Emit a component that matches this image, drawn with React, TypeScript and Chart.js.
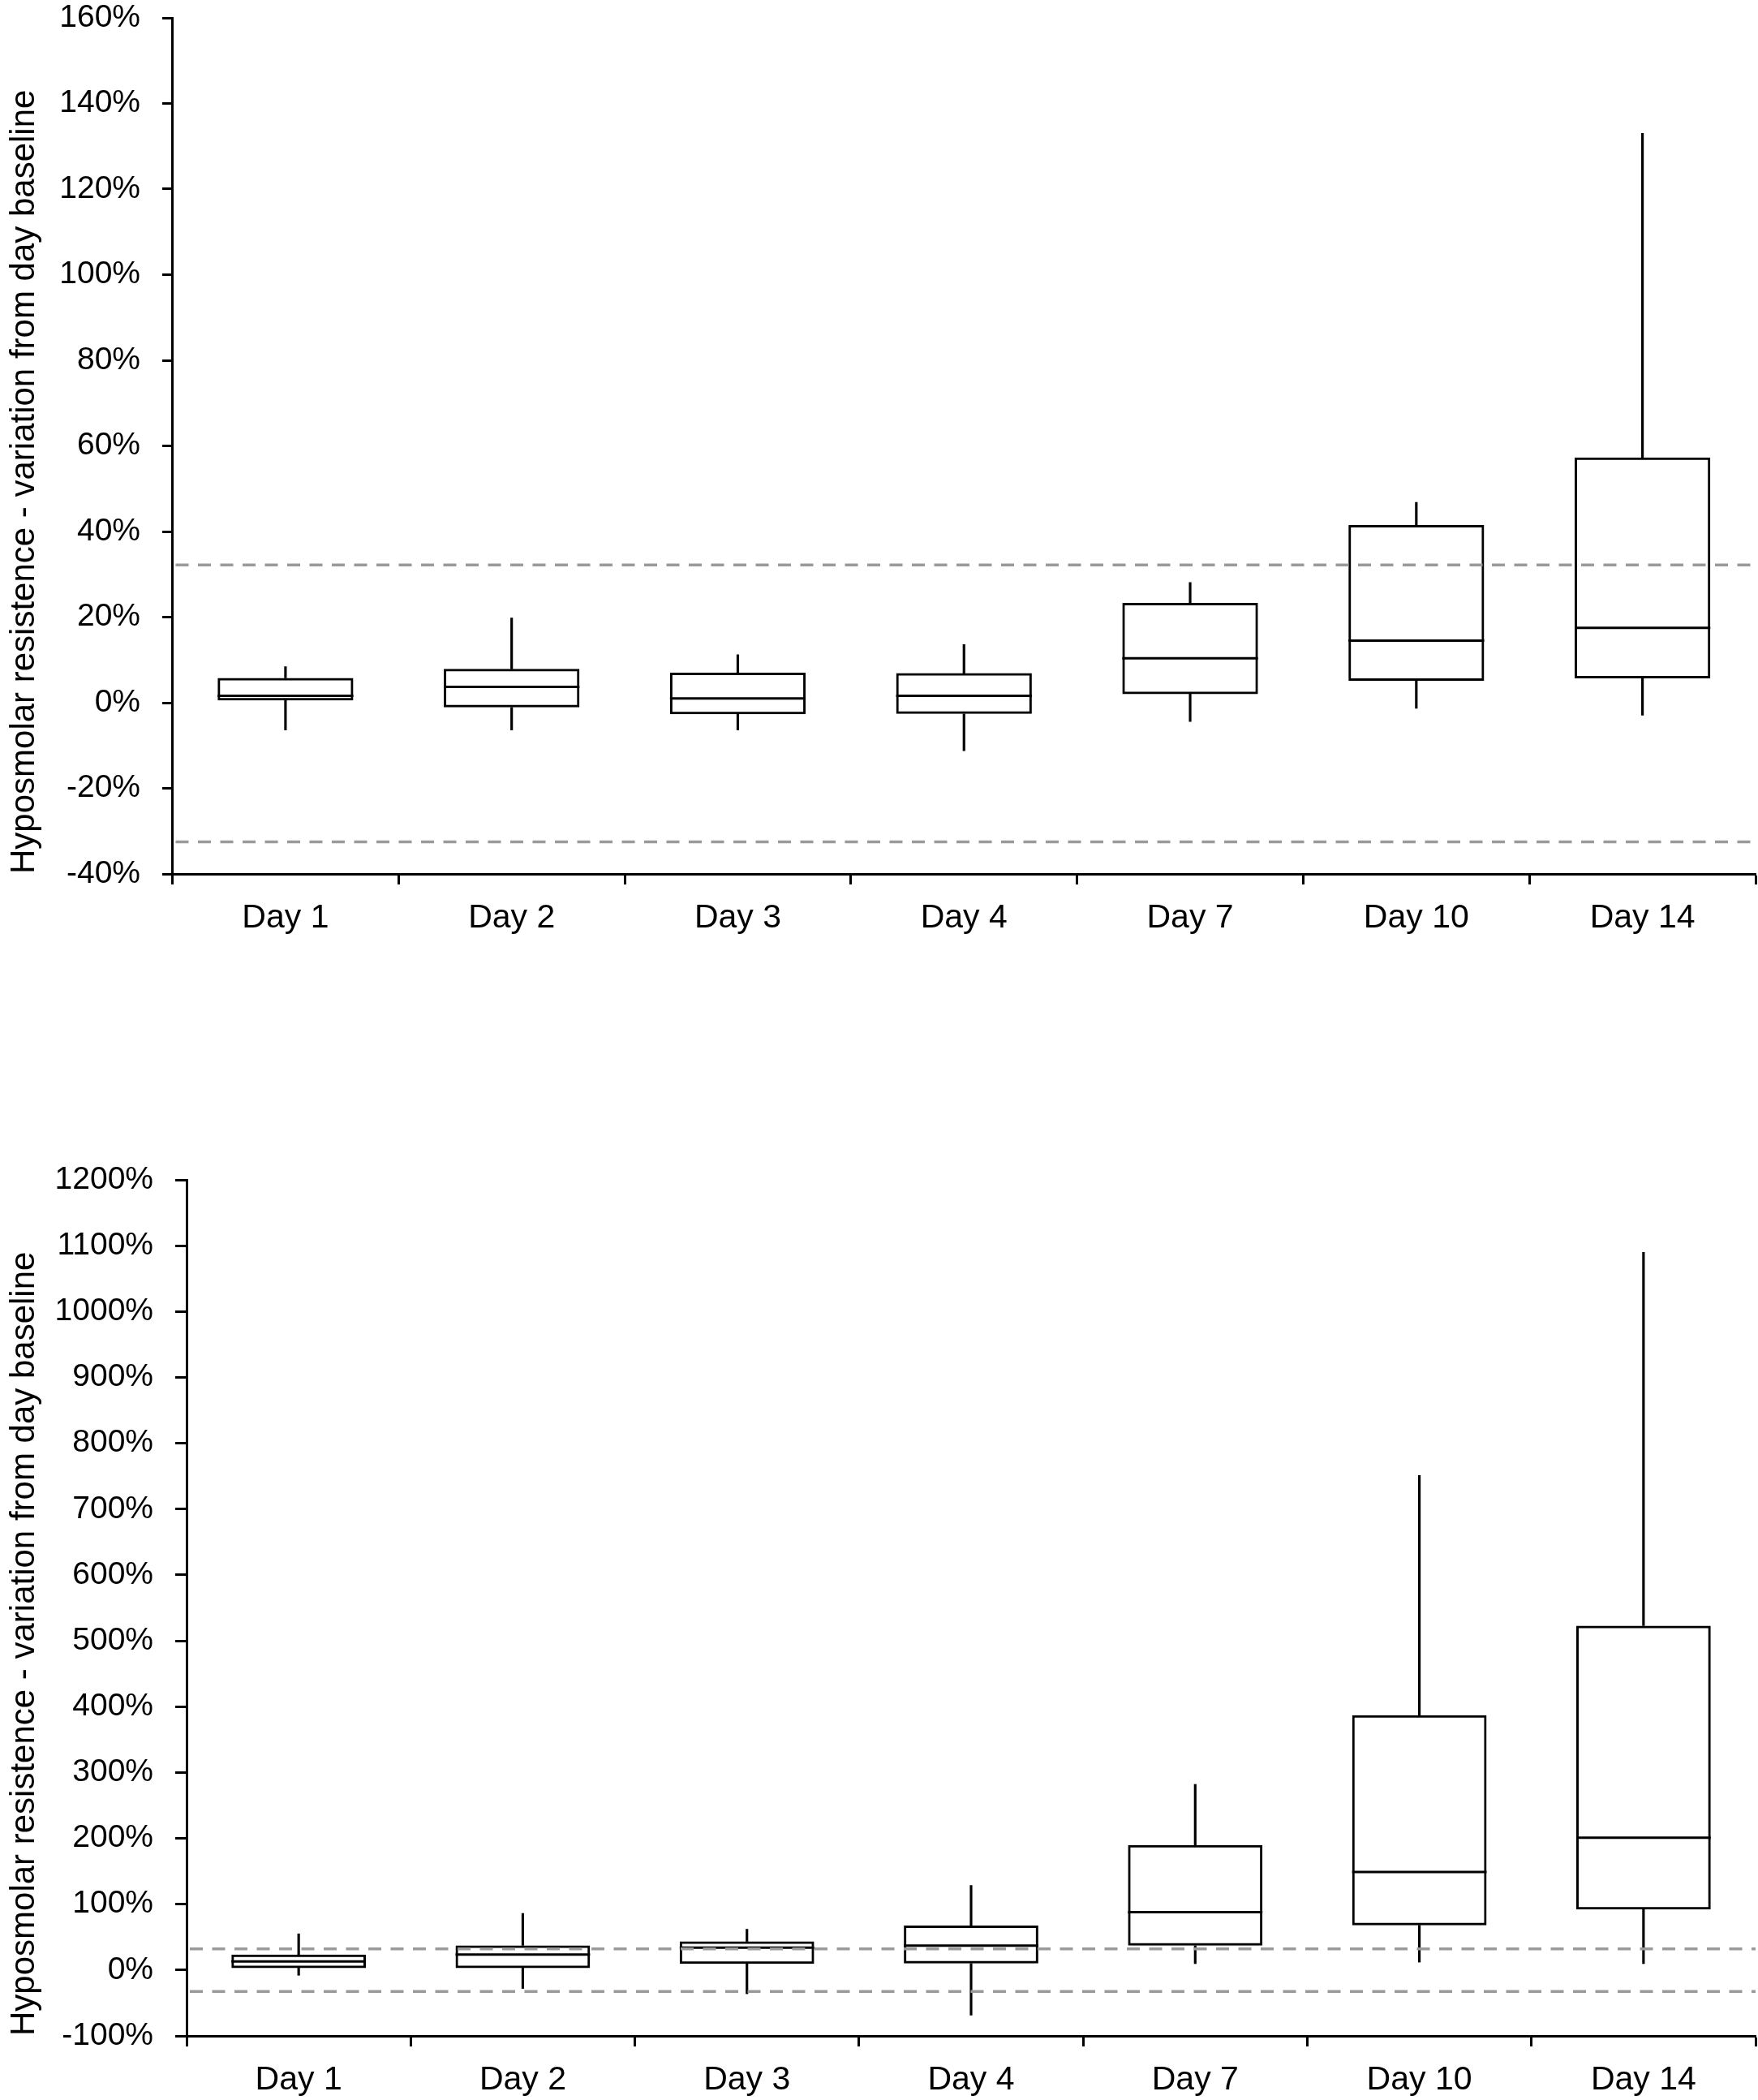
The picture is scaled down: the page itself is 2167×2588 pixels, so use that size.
import React, { useEffect, useRef } from 'react';
import { Chart, registerables } from 'chart.js';

Chart.register(...registerables);

// ---------- data ----------
const CATEGORIES = ['Day 1', 'Day 2', 'Day 3', 'Day 4', 'Day 7', 'Day 10', 'Day 14'];

// upper panel (%)
const TOP_MIN = [-6.4, -6.4, -6.4, -11.2, -4.4, -1.3, -2.9];
const TOP_Q1 = [0.5, -1.1, -2.7, -2.6, 2.0, 5.1, 5.7];
const TOP_MEDIAN = [1.6, 3.7, 1.0, 1.6, 10.4, 14.5, 17.5];
const TOP_Q3 = [5.8, 7.9, 7.0, 6.9, 23.3, 41.5, 57.3];
const TOP_MAX = [8.4, 19.8, 11.2, 13.6, 28.1, 46.8, 133];
const TOP_Y_RANGE = [-40, 160, 20]; // min, max, step

// lower panel (%)
const BOTTOM_MIN = [-8, -28, -36, -68.5, 9.7, 12, 9.7];
const BOTTOM_Q1 = [3, 3, 9.5, 10, 37, 68, 92];
const BOTTOM_MEDIAN = [13, 23.6, 34, 37, 88, 149, 201];
const BOTTOM_Q3 = [23.6, 37.5, 43.5, 67.5, 190, 387, 523];
const BOTTOM_MAX = [55, 86, 62, 128.5, 282, 751, 1090];
const BOTTOM_Y_RANGE = [-100, 1200, 100];

// reference limits (dashed lines), %
const LIMITS = [32.2, -32.5];

const Y_TITLE = 'Hyposmolar resistence - variation from day baseline';

const FONT_FAMILY = "'Liberation Sans', Arial, Helvetica, sans-serif";

type Geometry = {
  top: number;
  height: number;
  padTop: number;
  yWidth: number;
  xHeight: number;
  yTick: number;
  xPad: number;
};

function extrasPlugin(medians: number[], limits: number[]) {
  return {
    id: 'boxExtras',
    afterDatasetsDraw(chart: any) {
      const { ctx, chartArea, scales } = chart;
      const y = scales.y;
      const meta = chart.getDatasetMeta(2);
      ctx.save();
      ctx.strokeStyle = '#000';
      ctx.lineWidth = 3;
      ctx.setLineDash([]);
      meta.data.forEach((bar: any, i: number) => {
        const { x, width } = bar.getProps(['x', 'width'], true);
        const py = y.getPixelForValue(medians[i]);
        ctx.beginPath();
        ctx.moveTo(x - width / 2, py);
        ctx.lineTo(x + width / 2, py);
        ctx.stroke();
      });
      ctx.strokeStyle = '#9a9a9a';
      ctx.lineWidth = 3.5;
      ctx.setLineDash([16, 11.5]);
      limits.forEach((v) => {
        const py = y.getPixelForValue(v);
        ctx.beginPath();
        ctx.moveTo(chartArea.left + 4, py);
        ctx.lineTo(chartArea.right, py);
        ctx.stroke();
      });
      ctx.restore();
    },
  };
}

function BoxChart(props: {
  mins: number[];
  q1: number[];
  medians: number[];
  q3: number[];
  maxs: number[];
  range: number[];
  g: Geometry;
}) {
  const { mins, q1, medians, q3, maxs, range, g } = props;
  const ref = useRef<HTMLCanvasElement>(null);

  useEffect(() => {
    const chart = new Chart(ref.current as HTMLCanvasElement, {
      type: 'bar',
      data: {
        labels: CATEGORIES,
        datasets: [
          {
            label: 'lower whisker',
            data: CATEGORIES.map((_, i) => [mins[i], q1[i]]) as any,
            backgroundColor: '#000',
            borderWidth: 0,
            barThickness: 2.5,
            grouped: false,
          } as any,
          {
            label: 'upper whisker',
            data: CATEGORIES.map((_, i) => [q3[i], maxs[i]]) as any,
            backgroundColor: '#000',
            borderWidth: 0,
            barThickness: 2.5,
            grouped: false,
          } as any,
          {
            label: 'IQR',
            data: CATEGORIES.map((_, i) => [q1[i], q3[i]]) as any,
            backgroundColor: 'rgba(0,0,0,0)',
            borderColor: '#000',
            borderWidth: 3,
            borderSkipped: false,
            barPercentage: 0.6,
            categoryPercentage: 1,
            grouped: false,
          } as any,
        ],
      },
      options: {
        responsive: false,
        animation: false,
        devicePixelRatio: 1,
        layout: { padding: { top: g.padTop, right: 3, left: 0, bottom: 0 } },
        plugins: { legend: { display: false }, tooltip: { enabled: false } },
        scales: {
          x: {
            type: 'category',
            offset: true,
            grid: {
              display: true,
              offset: true,
              drawOnChartArea: false,
              drawTicks: true,
              tickLength: 13,
              tickWidth: 3,
              tickColor: '#000',
            },
            border: { display: true, color: '#000', width: 3 },
            ticks: {
              color: '#000',
              font: { family: FONT_FAMILY, size: 41 },
              padding: g.xPad,
              maxRotation: 0,
              autoSkip: false,
            },
            afterFit: (s: any) => {
              s.height = g.xHeight;
            },
          } as any,
          y: {
            type: 'linear',
            min: range[0],
            max: range[1],
            grid: {
              display: true,
              drawOnChartArea: false,
              drawTicks: true,
              tickLength: g.yTick,
              tickWidth: 3,
              tickColor: '#000',
            },
            border: { display: true, color: '#000', width: 3 },
            ticks: {
              stepSize: range[2],
              color: '#000',
              font: { family: FONT_FAMILY, size: 39 },
              padding: 27,
              callback: (v: any) => `${v}%`,
            },
            title: {
              display: true,
              text: Y_TITLE,
              align: 'start',
              color: '#000',
              font: { family: FONT_FAMILY, size: 42 },
              padding: { top: 5, bottom: 0 },
            },
            afterFit: (s: any) => {
              s.width = g.yWidth;
            },
          } as any,
        },
      },
      plugins: [extrasPlugin(medians, LIMITS)],
    } as any);
    return () => chart.destroy();
  }, []);

  return (
    <canvas
      ref={ref}
      width={2167}
      height={g.height}
      style={{ position: 'absolute', left: 0, top: g.top, width: 2167, height: g.height }}
    />
  );
}

const TOP_GEOMETRY: Geometry = { top: -29, height: 1230, padTop: 51, yWidth: 212.5, xHeight: 124, yTick: 12.5, xPad: 17 };
const BOTTOM_GEOMETRY: Geometry = { top: 1300, height: 1288, padTop: 154, yWidth: 230, xHeight: 79, yTick: 14, xPad: 17 };

export default function App() {
  return (
    <div
      style={{
        position: 'fixed',
        left: 0,
        top: 0,
        width: 2167,
        height: 2588,
        background: '#fff',
        overflow: 'hidden',
      }}
    >
      <BoxChart
        mins={TOP_MIN}
        q1={TOP_Q1}
        medians={TOP_MEDIAN}
        q3={TOP_Q3}
        maxs={TOP_MAX}
        range={TOP_Y_RANGE}
        g={TOP_GEOMETRY}
      />
      <BoxChart
        mins={BOTTOM_MIN}
        q1={BOTTOM_Q1}
        medians={BOTTOM_MEDIAN}
        q3={BOTTOM_Q3}
        maxs={BOTTOM_MAX}
        range={BOTTOM_Y_RANGE}
        g={BOTTOM_GEOMETRY}
      />
    </div>
  );
}
